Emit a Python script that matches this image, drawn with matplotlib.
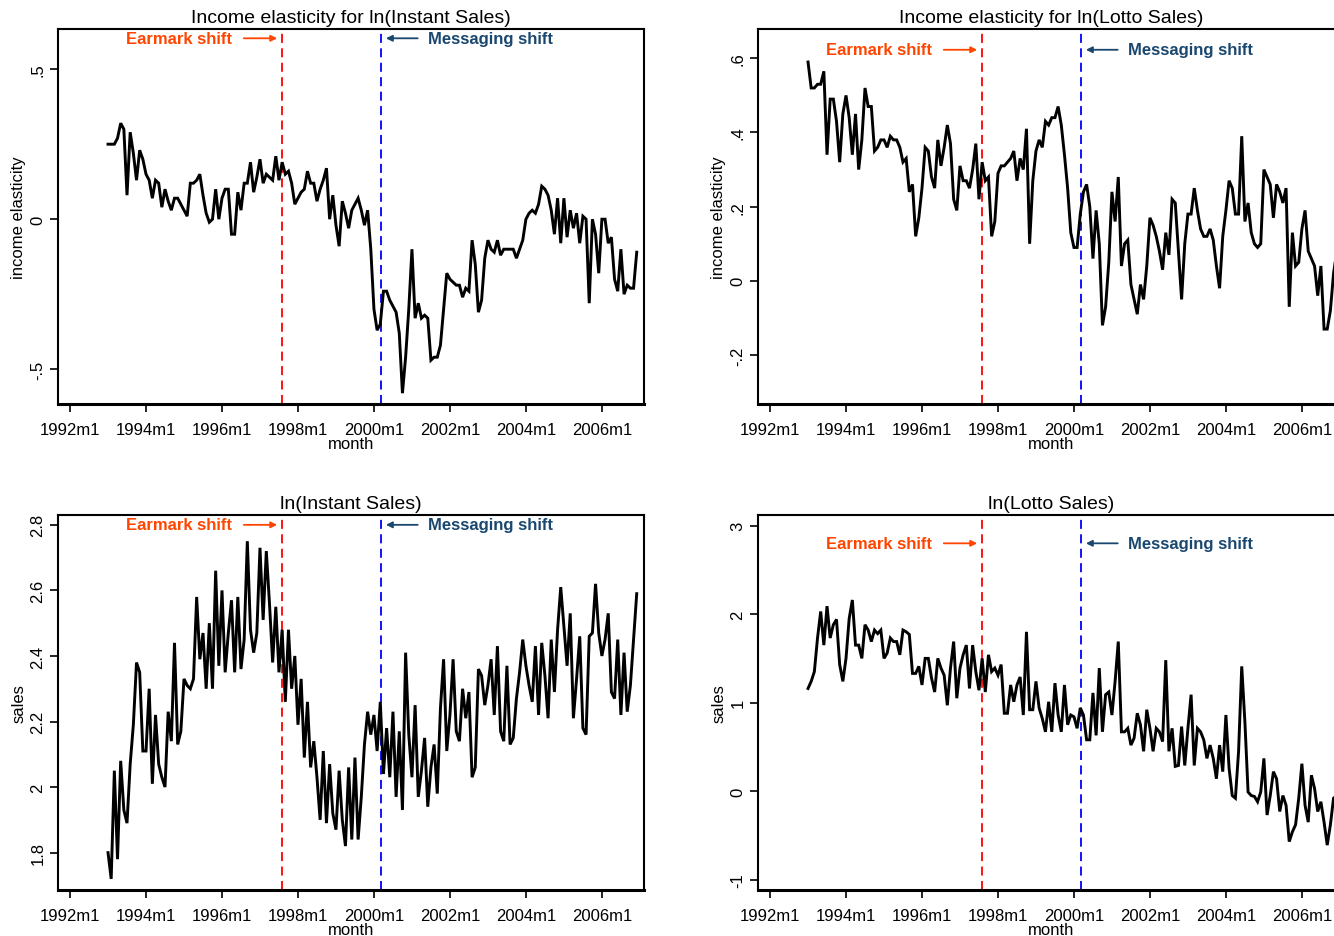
import numpy as np
import matplotlib
matplotlib.use("Agg")
import matplotlib.pyplot as plt

plt.rcParams['font.family'] = ['Liberation Sans', 'DejaVu Sans']

# monthly series, 1993m1 .. 2006m12 (month index counted from 1992m1 = 0)
START_MONTH = 12

elast_instant = [
    0.25, 0.25, 0.25, 0.27, 0.32, 0.30, 0.08, 0.29, 0.22, 0.13, 0.23, 0.20,
    0.15, 0.13, 0.07, 0.13, 0.12, 0.04, 0.10, 0.06, 0.03, 0.07, 0.07, 0.05,
    0.03, 0.01, 0.12, 0.12, 0.13, 0.15, 0.08, 0.02, -0.01, 0.00, 0.10, 0.00,
    0.07, 0.10, 0.10, -0.05, -0.05, 0.09, 0.03, 0.12, 0.12, 0.19, 0.09, 0.14,
    0.20, 0.12, 0.15, 0.14, 0.13, 0.21, 0.13, 0.19, 0.15, 0.16, 0.12, 0.05,
    0.07, 0.09, 0.10, 0.16, 0.12, 0.12, 0.06, 0.10, 0.13, 0.17, 0.00, 0.08,
    -0.02, -0.09, 0.06, 0.02, -0.03, 0.03, 0.05, 0.07, 0.03, -0.02, 0.03, -0.10,
    -0.30, -0.37, -0.35, -0.24, -0.24, -0.27, -0.29, -0.31, -0.38, -0.58, -0.46, -0.30,
    -0.10, -0.33, -0.28, -0.33, -0.32, -0.33, -0.47, -0.46, -0.46, -0.42, -0.30, -0.18,
    -0.20, -0.21, -0.22, -0.22, -0.26, -0.23, -0.24, -0.07, -0.15, -0.31, -0.27, -0.13,
    -0.07, -0.10, -0.11, -0.07, -0.12, -0.10, -0.10, -0.10, -0.10, -0.13, -0.10, -0.07,
    0.00, 0.02, 0.03, 0.02, 0.05, 0.11, 0.10, 0.08, 0.03, -0.05, 0.07, -0.08,
    0.07, -0.06, 0.03, -0.03, 0.02, -0.08, 0.01, 0.00, -0.28, 0.00, -0.05, -0.18,
    0.00, 0.00, -0.08, -0.06, -0.20, -0.24, -0.10, -0.25, -0.22, -0.23, -0.23, -0.11,
]

elast_lotto = [
    0.59, 0.52, 0.52, 0.53, 0.53, 0.565, 0.34, 0.49, 0.49, 0.43, 0.32, 0.45,
    0.50, 0.44, 0.34, 0.45, 0.30, 0.38, 0.52, 0.47, 0.47, 0.35, 0.36, 0.38,
    0.38, 0.36, 0.39, 0.38, 0.38, 0.36, 0.32, 0.33, 0.24, 0.26, 0.12, 0.17,
    0.25, 0.36, 0.35, 0.28, 0.25, 0.38, 0.31, 0.36, 0.42, 0.37, 0.22, 0.19,
    0.31, 0.27, 0.27, 0.25, 0.30, 0.37, 0.22, 0.32, 0.27, 0.28, 0.12, 0.16,
    0.29, 0.31, 0.31, 0.32, 0.33, 0.35, 0.27, 0.33, 0.30, 0.41, 0.10, 0.27,
    0.35, 0.38, 0.36, 0.43, 0.42, 0.44, 0.44, 0.47, 0.42, 0.34, 0.25, 0.13,
    0.09, 0.09, 0.18, 0.24, 0.26, 0.20, 0.06, 0.19, 0.10, -0.12, -0.07, 0.05,
    0.24, 0.16, 0.28, 0.04, 0.10, 0.11, -0.01, -0.05, -0.09, -0.01, -0.05, 0.04,
    0.17, 0.15, 0.12, 0.08, 0.03, 0.13, 0.07, 0.22, 0.21, 0.08, -0.05, 0.10,
    0.18, 0.18, 0.25, 0.19, 0.14, 0.12, 0.12, 0.14, 0.11, 0.04, -0.02, 0.12,
    0.19, 0.27, 0.25, 0.18, 0.18, 0.39, 0.16, 0.21, 0.13, 0.10, 0.09, 0.10,
    0.30, 0.28, 0.26, 0.17, 0.26, 0.24, 0.21, 0.25, -0.07, 0.13, 0.04, 0.05,
    0.14, 0.19, 0.08, 0.06, 0.04, -0.04, 0.04, -0.13, -0.13, -0.08, 0.02, 0.08,
]

sales_instant = [
    1.80, 1.72, 2.05, 1.78, 2.08, 1.93, 1.89, 2.07, 2.19, 2.38, 2.35, 2.11,
    2.11, 2.30, 2.01, 2.22, 2.07, 2.03, 2.00, 2.23, 2.14, 2.44, 2.13, 2.17,
    2.33, 2.31, 2.30, 2.33, 2.58, 2.39, 2.47, 2.30, 2.50, 2.30, 2.66, 2.37,
    2.60, 2.35, 2.47, 2.57, 2.35, 2.58, 2.36, 2.45, 2.75, 2.48, 2.41, 2.47,
    2.73, 2.51, 2.72, 2.56, 2.38, 2.55, 2.35, 2.48, 2.26, 2.48, 2.30, 2.40,
    2.19, 2.33, 2.09, 2.26, 2.06, 2.14, 2.03, 1.90, 2.11, 1.89, 2.07, 1.92,
    1.87, 2.05, 1.90, 1.82, 2.06, 1.84, 2.09, 1.84, 1.97, 2.13, 2.23, 2.16,
    2.22, 2.11, 2.26, 2.04, 2.18, 2.03, 2.23, 1.97, 2.17, 1.93, 2.41, 2.16,
    2.03, 2.25, 1.97, 2.05, 2.15, 1.94, 2.06, 2.13, 1.98, 2.24, 2.39, 2.11,
    2.22, 2.39, 2.17, 2.14, 2.30, 2.21, 2.29, 2.03, 2.06, 2.36, 2.34, 2.25,
    2.31, 2.39, 2.22, 2.43, 2.17, 2.14, 2.37, 2.13, 2.15, 2.27, 2.35, 2.45,
    2.37, 2.31, 2.26, 2.43, 2.22, 2.44, 2.34, 2.21, 2.45, 2.29, 2.48, 2.61,
    2.49, 2.37, 2.53, 2.21, 2.33, 2.46, 2.18, 2.16, 2.46, 2.47, 2.62, 2.47,
    2.40, 2.45, 2.53, 2.29, 2.27, 2.45, 2.22, 2.41, 2.23, 2.31, 2.45, 2.59,
]

sales_lotto = [
    1.16, 1.24, 1.35, 1.73, 2.03, 1.65, 2.09, 1.73, 1.88, 1.94, 1.43, 1.24,
    1.50, 1.95, 2.16, 1.65, 1.65, 1.50, 1.88, 1.82, 1.69, 1.82, 1.78, 1.82,
    1.50, 1.56, 1.73, 1.69, 1.69, 1.54, 1.82, 1.80, 1.77, 1.33, 1.33, 1.41,
    1.20, 1.50, 1.50, 1.28, 1.12, 1.50, 1.39, 1.31, 0.97, 1.39, 1.69, 1.05,
    1.39, 1.54, 1.65, 1.16, 1.65, 1.35, 1.14, 1.50, 1.12, 1.54, 1.35, 1.39,
    1.31, 1.43, 0.88, 0.88, 1.20, 1.01, 1.20, 1.29, 0.86, 1.80, 0.92, 0.92,
    1.24, 0.94, 0.82, 0.67, 1.01, 0.67, 1.22, 0.86, 0.67, 1.20, 0.75, 0.86,
    0.84, 0.71, 0.94, 0.86, 0.58, 0.58, 1.11, 0.63, 1.39, 0.67, 1.09, 1.12,
    0.86, 1.24, 1.69, 0.67, 0.67, 0.71, 0.52, 0.60, 0.88, 0.75, 0.45, 0.92,
    0.71, 0.45, 0.71, 0.67, 0.56, 1.48, 0.45, 0.71, 0.28, 0.29, 0.73, 0.29,
    0.71, 1.09, 0.29, 0.71, 0.67, 0.58, 0.37, 0.52, 0.37, 0.14, 0.52, 0.22,
    0.86, 0.26, -0.05, -0.08, 0.45, 1.41, 0.78, -0.01, -0.05, -0.06, -0.12, -0.01,
    0.37, -0.27, -0.05, 0.22, 0.14, -0.23, -0.05, -0.16, -0.57, -0.46, -0.38, -0.08,
    0.31, -0.16, -0.35, 0.18, 0.03, -0.23, -0.12, -0.35, -0.61, -0.38, -0.08, -0.05,
]

xtick_months = [0, 24, 48, 72, 96, 120, 144, 168]
xtick_labels = ['1992m1', '1994m1', '1996m1', '1998m1', '2000m1', '2002m1', '2004m1', '2006m1']

earmark_month = 66.8
messaging_month = 98.2

panels = [
    dict(title='Income elasticity for ln(Instant Sales)', data=elast_instant, ylabel='income elasticity',
         yticks=[-0.5, 0, 0.5], yticklabels=['-.5', '0', '.5'], ylim=(-0.616, 0.634), text_y=0.603),
    dict(title='Income elasticity for ln(Lotto Sales)', data=elast_lotto, ylabel='income elasticity',
         yticks=[-0.2, 0, 0.2, 0.4, 0.6], yticklabels=['-.2', '0', '.2', '.4', '.6'], ylim=(-0.332, 0.679), text_y=0.623),
    dict(title='ln(Instant Sales)', data=sales_instant, ylabel='sales',
         yticks=[1.8, 2.0, 2.2, 2.4, 2.6, 2.8], yticklabels=['1.8', '2', '2.2', '2.4', '2.6', '2.8'], ylim=(1.686, 2.83), text_y=2.80),
    dict(title='ln(Lotto Sales)', data=sales_lotto, ylabel='sales',
         yticks=[-1, 0, 1, 2, 3], yticklabels=['-1', '0', '1', '2', '3'], ylim=(-1.117, 3.12), text_y=2.80),
]

# axes boxes in pixels (left, top) - right column runs past the image edge
W, H = 1334, 937
boxes = [(58, 30), (758, 30), (58, 516), (758, 516)]
box_w, box_h = 586, 375

EARMARK_COL = '#FF4500'
MSG_COL = '#1A476F'

fig = plt.figure(figsize=(W / 100, H / 100), dpi=100)

for p, (left, top) in zip(panels, boxes):
    ax = fig.add_axes([left / W, 1 - (top + box_h) / H, box_w / W, box_h / H])
    vals = p['data']
    assert len(vals) == 168
    months = np.arange(START_MONTH, START_MONTH + len(vals))
    ax.plot(months, vals, color='black', lw=2.1, solid_joinstyle='miter', zorder=3)

    ax.axvline(earmark_month, color='red', ls=(0, (5, 3)), lw=1.3, zorder=2)
    ax.axvline(messaging_month, color='blue', ls=(0, (5, 3)), lw=1.3, zorder=2)

    ty = p['text_y']
    ax.text(51.2, ty, 'Earmark shift', color=EARMARK_COL, fontsize=12, fontweight='bold',
            ha='right', va='center')
    ax.annotate('', xy=(66.3, ty), xytext=(54.0, ty),
                arrowprops=dict(arrowstyle='-|>', color=EARMARK_COL, lw=1.3, mutation_scale=9))
    ax.annotate('', xy=(98.9, ty), xytext=(110.7, ty),
                arrowprops=dict(arrowstyle='-|>', color=MSG_COL, lw=1.3, mutation_scale=9))
    ax.text(113.0, ty, 'Messaging shift', color=MSG_COL, fontsize=12, fontweight='bold',
            ha='left', va='center')

    ax.set_xlim(-3.8, 181.3)
    ax.set_ylim(*p['ylim'])
    ax.set_xticks(xtick_months)
    ax.set_xticklabels(xtick_labels, fontsize=12)
    ax.set_yticks(p['yticks'])
    ax.set_yticklabels(p['yticklabels'], fontsize=12, rotation=90, va='center')
    ax.tick_params(direction='out', length=6, width=1.2, colors='black')
    ax.tick_params(axis='x', pad=7)
    ax.tick_params(axis='y', pad=3)
    ax.set_xlabel('month', fontsize=12, labelpad=-1)
    ax.set_ylabel(p['ylabel'], fontsize=12, labelpad=3)
    ax.set_title(p['title'], fontsize=14, pad=5)
    for side in ['top', 'right', 'left']:
        ax.spines[side].set_linewidth(1.5)
    ax.spines['bottom'].set_linewidth(2.2)

fig.savefig('out.png', dpi=100)
